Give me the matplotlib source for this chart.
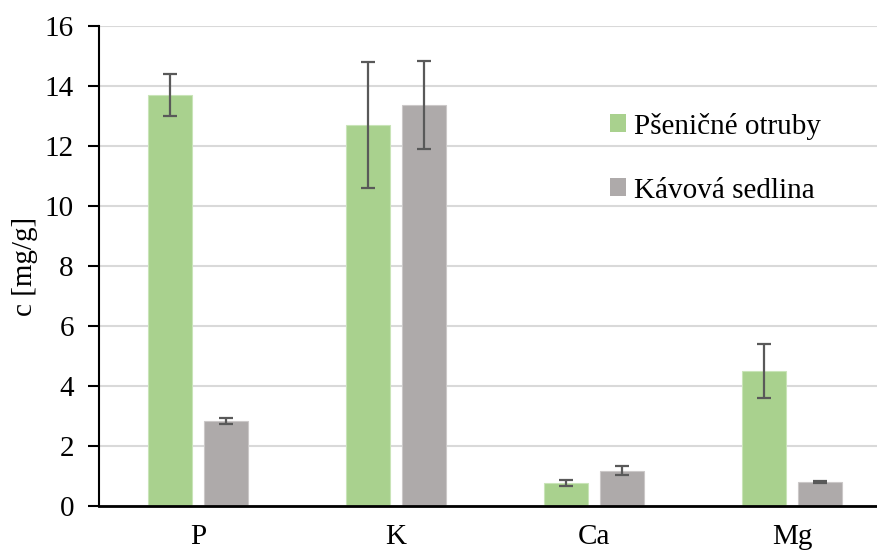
import matplotlib
matplotlib.use("Agg")
import matplotlib.pyplot as plt
import numpy as np

plt.rcParams['font.family'] = ['Liberation Serif', 'DejaVu Serif']

categories = ["P", "K", "Ca", "Mg"]
series_names = ["Pšeničné otruby", "Kávová sedlina"]
wheat = [13.7, 12.7, 0.77, 4.5]
wheat_err = [0.7, 2.1, 0.1, 0.9]
coffee = [2.83, 13.37, 1.17, 0.8]
coffee_err = [0.1, 1.48, 0.15, 0.02]

W, H = 877, 553
fig = plt.figure(figsize=(W/100, H/100), dpi=100)
ax = fig.add_axes([99/W, 1-506/H, (4*198)/W, (506-26)/H])

x = np.arange(len(categories))
bw = 0.222
off = 0.143
err_kw = dict(ecolor='#595959', elinewidth=1.6, capsize=5, capthick=1.6)
b1 = ax.bar(x-off, wheat, bw, yerr=wheat_err, color='#a9d18e', edgecolor='#c9e4b8', linewidth=0.8,
            error_kw=err_kw, label=series_names[0], zorder=2)
b2 = ax.bar(x+off, coffee, bw, yerr=coffee_err, color='#aeaaaa', edgecolor='#cbc8c8', linewidth=0.8,
            error_kw=err_kw, label=series_names[1], zorder=2)

ax.set_xlim(-0.5, 3.5)
ax.set_ylim(0, 16)
ax.set_yticks(np.arange(0, 17, 2))
ax.set_xticks(x)
ax.set_xticklabels(categories)
ax.yaxis.grid(True, color='#d9d9d9', linewidth=1.5, zorder=0)
ax.set_axisbelow(True)
for s in ['top', 'right']:
    ax.spines[s].set_visible(False)
ax.spines['left'].set_linewidth(1.5)
ax.spines['bottom'].set_linewidth(2)
ax.tick_params(axis='y', length=8, width=1.5, labelsize=21, pad=10)
ax.tick_params(axis='x', length=0, labelsize=21, pad=13)
ax.set_ylabel("c [mg/g]", fontsize=21, labelpad=5)

leg = fig.legend(handles=[b1, b2], labels=series_names, loc='upper left',
                 bbox_to_anchor=(595/W, 1-98/H), frameon=False, fontsize=21,
                 handlelength=0.55, handleheight=0.55, handletextpad=0.3,
                 labelspacing=1.3, borderpad=0)
for h in leg.legend_handles:
    h.set_edgecolor('none')

fig.savefig("out.png", dpi=100)
